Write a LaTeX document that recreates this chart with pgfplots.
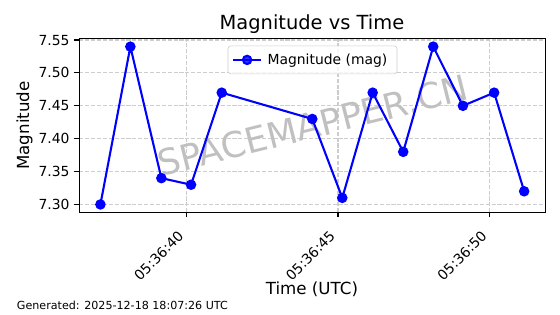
\documentclass[border=0pt]{standalone}
\usepackage{pgfplots}
\pgfplotsset{compat=1.18}
\usepackage{fontspec}
\setmainfont{DejaVu Sans}
\definecolor{gridc}{RGB}{205,205,205}
\definecolor{wm}{RGB}{192,192,192}
\begin{document}
\begin{tikzpicture}
\useasboundingbox (0,0) rectangle (403.2pt,226.08pt);
\begin{axis}[
  at={(57.1pt,73.2pt)}, anchor=south west,
  scale only axis, width=335.8pt, height=125pt,
  xmin=36.47, xmax=51.85, ymin=7.288, ymax=7.552,
  xtick={40,45,50}, xticklabels={05:36:40,05:36:45,05:36:50},
  ytick={7.30,7.35,7.40,7.45,7.50,7.55},
  yticklabel style={/pgf/number format/.cd, fixed, fixed zerofill, precision=2},
  /pgf/number format/assume math mode=true,
  tick label style={font=\fontsize{10}{12}\selectfont, black},
  xticklabel style={rotate=45, anchor=north east, inner sep=1pt, yshift=-0.5pt, xshift=-10pt},
  tick align=outside, major tick length=3.5pt,
  xtick pos=left, ytick pos=left,
  tick style={black, line width=0.8pt},
  axis line style={line width=0.8pt, black},
  grid=major,
  major grid style={gridc, line width=0.8pt, dash pattern=on 2.96pt off 1.28pt},
  legend style={at={(0.5,0.96)}, anchor=north, draw=black!20, rounded corners=2pt,
    font=\fontsize{10}{12}\selectfont, inner xsep=3pt, inner ysep=3.5pt, fill=white, fill opacity=0.8, text opacity=1,
    nodes={inner xsep=4pt}},
  legend image code/.code={\draw[mark repeat=2,mark phase=2] plot coordinates {(0pt,0pt) (10pt,0pt) (20pt,0pt)};},
]
\node[text=wm, font=\fontsize{25.5}{30}\selectfont, rotate=14] at (rel axis cs:0.5,0.5) {SPACEMAPPER.CN};
\addplot[blue, line width=1.5pt, mark=*, mark size=3pt, mark options={solid, fill=blue, draw=blue}]
  coordinates {
  (37.166,7.30) (38.154,7.54) (39.176,7.34) (40.155,7.33) (41.167,7.47)
  (44.153,7.43) (45.142,7.31) (46.144,7.47) (47.152,7.38) (48.141,7.54)
  (49.12,7.45) (50.15,7.47) (51.14,7.32)
  };
\addlegendentry{Magnitude (mag)}
\end{axis}
\node[anchor=base, font=\fontsize{14}{17}\selectfont] at (224.6pt,204.5pt) {Magnitude vs Time};
\node[anchor=base, rotate=90, font=\fontsize{12}{14}\selectfont] at (20.9pt,135.7pt) {Magnitude};
\node[anchor=base, font=\fontsize{12}{14}\selectfont] at (224.6pt,14.4pt) {Time (UTC)};
\node[anchor=base west, inner sep=0pt, font=\fontsize{8}{10}\selectfont] at (12pt,3.6pt) {Generated: 2025-12-18 18:07:26 UTC};
\end{tikzpicture}
\end{document}
